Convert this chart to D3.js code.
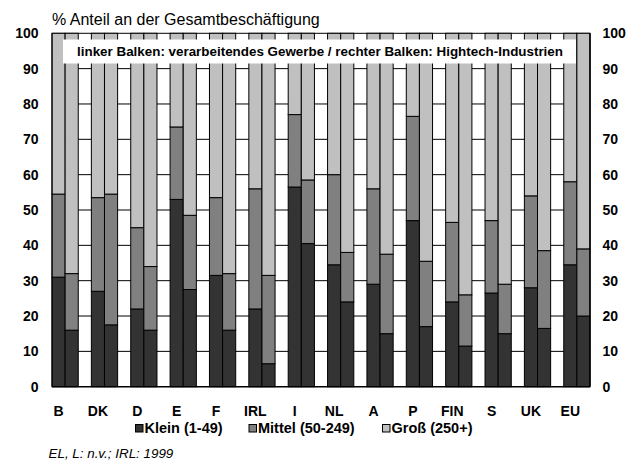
<!DOCTYPE html>
<html>
<head>
<meta charset="utf-8">
<script src="https://cdn.jsdelivr.net/npm/d3@7"></script>
<style>
  body { margin: 0; background: #fff; }
  svg { display: block; font-family: Arial, "Liberation Sans", sans-serif; }
</style>
</head>
<body>
<svg id="chart" width="630" height="462"></svg>
<script>
// Employment share by enterprise size class (% of total employment)
const countries = ["B","DK","D","E","F","IRL","I","NL","A","P","FIN","S","UK","EU"];

// left bar: manufacturing
const kleinMfg  = [31, 27, 22, 53, 31.5, 22, 56.5, 34.5, 29, 47, 24, 26.5, 28, 34.5];
const mittelMfg = [23.5, 26.5, 23, 20.5, 22, 34, 20.5, 25.5, 27, 29.5, 22.5, 20.5, 26, 23.5];
const grossMfg  = [45.5, 46.5, 55, 26.5, 46.5, 44, 23, 40, 44, 23.5, 53.5, 53, 46, 42];

// right bar: high-tech industries
const kleinHT  = [16, 17.5, 16, 27.5, 16, 6.5, 40.5, 24, 15, 17, 11.5, 15, 16.5, 20];
const mittelHT = [16, 37, 18, 21, 16, 25, 18, 14, 22.5, 18.5, 14.5, 14, 22, 19];
const grossHT  = [68, 45.5, 66, 51.5, 68, 68.5, 41.5, 62, 62.5, 64.5, 74, 71, 61.5, 61];

const yTicks = [0, 10, 20, 30, 40, 50, 60, 70, 80, 90, 100];
const sizeClasses = ["Klein (1-49)", "Mittel (50-249)", "Groß (250+)"];
const colors = ["#333333", "#808080", "#c0c0c0"];

const svg = d3.select("#chart");
const plotL = 52, plotR = 590, plotT = 33.3, plotB = 386.7;

const x = d3.scaleBand().domain(countries).range([plotL, plotR])
  .paddingInner(1 / 3).paddingOuter(0).align(0);
const xs = d3.scaleBand().domain(["mfg", "ht"]).range([0, x.bandwidth()]);
const y = d3.scaleLinear().domain([0, 100]).range([plotB, plotT]);

// horizontal gridlines
svg.append("g").selectAll("line").data(yTicks.filter(t => t > 0)).join("line")
  .attr("x1", plotL).attr("x2", plotR)
  .attr("y1", d => y(d)).attr("y2", d => y(d))
  .attr("stroke", "#000").attr("stroke-width", 1);

// build stacked records
const rows = [];
countries.forEach((c, i) => {
  [["mfg", [kleinMfg[i], mittelMfg[i], grossMfg[i]]],
   ["ht",  [kleinHT[i],  mittelHT[i],  grossHT[i]]]].forEach(([kind, vals]) => {
    let acc = 0;
    vals.forEach((v, k) => {
      rows.push({ c, kind, k, y0: acc, y1: acc + v });
      acc += v;
    });
  });
});

svg.append("g").selectAll("rect").data(rows).join("rect")
  .attr("x", d => x(d.c) + xs(d.kind))
  .attr("width", xs.bandwidth())
  .attr("y", d => y(d.y1))
  .attr("height", d => y(d.y0) - y(d.y1))
  .attr("fill", d => colors[d.k])
  .attr("stroke", "#000").attr("stroke-width", 1);

// axis frame lines
svg.append("line").attr("x1", plotL).attr("x2", plotL).attr("y1", plotT).attr("y2", plotB)
  .attr("stroke", "#000").attr("stroke-width", 1);
svg.append("line").attr("x1", plotR).attr("x2", plotR).attr("y1", plotT).attr("y2", plotB)
  .attr("stroke", "#000").attr("stroke-width", 1.5);
svg.append("line").attr("x1", plotL).attr("x2", plotR).attr("y1", plotB).attr("y2", plotB)
  .attr("stroke", "#000").attr("stroke-width", 1.5);

// y tick labels on both sides
svg.append("g").selectAll("text").data(yTicks).join("text")
  .attr("x", 38.5).attr("y", d => y(d)).attr("dy", "0.36em")
  .attr("text-anchor", "end")
  .attr("font-size", "14px").attr("font-weight", "bold")
  .text(d => d);
svg.append("g").selectAll("text").data(yTicks).join("text")
  .attr("x", 602.5).attr("y", d => y(d)).attr("dy", "0.36em")
  .attr("text-anchor", "start")
  .attr("font-size", "14px").attr("font-weight", "bold")
  .text(d => d);

// country labels, centred under the left bar
svg.append("g").selectAll("text").data(countries).join("text")
  .attr("x", d => x(d) + xs("mfg") + xs.bandwidth() / 2)
  .attr("y", 415.5)
  .attr("text-anchor", "middle")
  .attr("font-size", "14px").attr("font-weight", "bold")
  .text(d => d);

// unit label
svg.append("text").attr("x", 52).attr("y", 25)
  .attr("font-size", "16px")
  .text("% Anteil an der Gesamtbeschäftigung");

// note box inside the plot
svg.append("rect").attr("x", 63).attr("y", 39.5).attr("width", 513).attr("height", 24)
  .attr("fill", "#fff");
svg.append("text").attr("x", 320).attr("y", 56)
  .attr("text-anchor", "middle")
  .attr("font-size", "13.4px").attr("font-weight", "bold")
  .text("linker Balken: verarbeitendes Gewerbe / rechter Balken: Hightech-Industrien");

// legend
const legendX = [135, 248.5, 382];
const lg = svg.append("g").selectAll("g").data(sizeClasses).join("g")
  .attr("transform", (d, i) => `translate(${legendX[i]},0)`);
lg.append("rect").attr("x", 0.5).attr("y", 424.5).attr("width", 7.5).attr("height", 7.5)
  .attr("fill", (d, i) => colors[i]).attr("stroke", "#000").attr("stroke-width", 1);
lg.append("text").attr("x", 9.5).attr("y", 432.5)
  .attr("font-size", "14.5px").attr("font-weight", "bold")
  .text(d => d);

// footnote
svg.append("text").attr("x", 48.5).attr("y", 458)
  .attr("font-size", "13.4px").attr("font-style", "italic")
  .text("EL, L: n.v.; IRL: 1999");
</script>
</body>
</html>
